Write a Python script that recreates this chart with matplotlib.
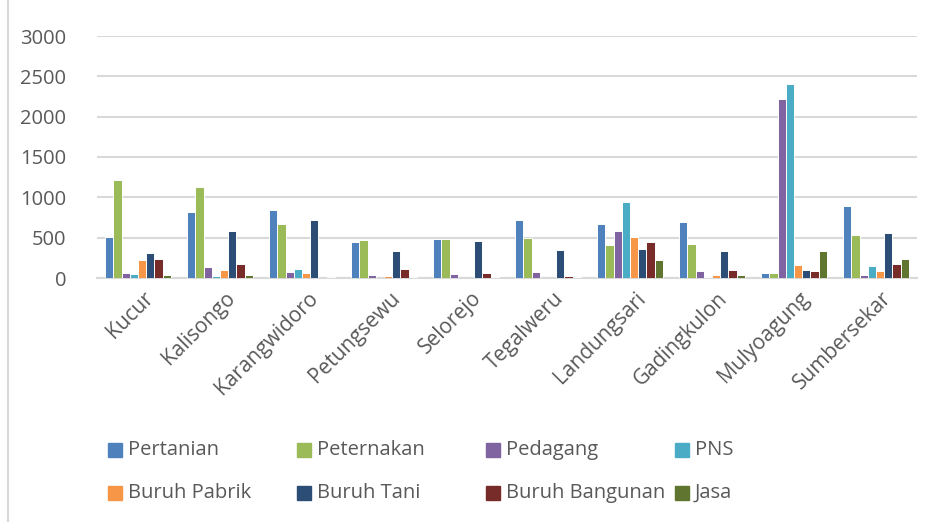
import numpy as np
import matplotlib
matplotlib.use("Agg")
import matplotlib.pyplot as plt
import matplotlib.transforms as mtransforms
from matplotlib.lines import Line2D
from matplotlib.patches import Rectangle

plt.rcParams['font.family'] = ['Open Sans', 'DejaVu Sans']

desa = ["Kucur", "Kalisongo", "Karangwidoro", "Petungsewu", "Selorejo",
        "Tegalweru", "Landungsari", "Gadingkulon", "Mulyoagung", "Sumbersekar"]

pertanian      = [512, 813, 842, 450, 478, 719, 664, 698, 57, 892]
peternakan     = [1218, 1128, 673, 470, 478, 496, 404, 416, 66, 533]
pedagang       = [57, 136, 78, 37, 50, 70, 582, 82, 2218, 33]
pns            = [45, 25, 111, 0, 0, 0, 942, 16, 2411, 152]
buruh_pabrik   = [227, 103, 62, 25, 0, 0, 512, 41, 157, 82]
buruh_tani     = [310, 582, 722, 334, 462, 342, 363, 338, 103, 557]
buruh_bangunan = [235, 169, 0, 111, 57, 29, 446, 103, 82, 173]
jasa           = [41, 41, 15, 16, 16, 16, 223, 41, 338, 239]

series = [
    ("Pertanian", pertanian, "#4F81BD"),
    ("Peternakan", peternakan, "#9BBB59"),
    ("Pedagang", pedagang, "#8064A2"),
    ("PNS", pns, "#4BACC6"),
    ("Buruh Pabrik", buruh_pabrik, "#F79646"),
    ("Buruh Tani", buruh_tani, "#2C4D75"),
    ("Buruh Bangunan", buruh_bangunan, "#772C2A"),
    ("Jasa", jasa, "#5F7530"),
]

W, H = 933, 522
fig = plt.figure(figsize=(W / 100, H / 100), dpi=100)
ax = fig.add_axes([97 / W, 1 - 278 / H, 820 / W, 242 / H])

x = np.arange(len(desa))
w = 0.1
for i, (name, vals, col) in enumerate(series):
    ax.bar(x + (i - 3.5) * w, vals, width=w, color=col, edgecolor="white",
           linewidth=0.7, label=name, zorder=3)

ax.set_xlim(-0.5, len(desa) - 0.5)
ax.set_ylim(0, 3000)
ax.set_yticks(range(0, 3001, 500))
ax.yaxis.grid(True, color="#D9D9D9", linewidth=1.5, zorder=0)
for s in ["top", "right", "left"]:
    ax.spines[s].set_visible(False)
ax.spines["bottom"].set_color("#D9D9D9")
ax.spines["bottom"].set_linewidth(1.5)
ax.tick_params(axis="y", length=0, pad=22, labelsize=14.5, labelcolor="#595959")
ax.tick_params(axis="x", length=0, pad=7)
ax.set_xticks(x)
ax.set_xticklabels(desa, rotation=45, ha="right", rotation_mode="anchor",
                   fontsize=15, color="#595959")
shift = mtransforms.ScaledTranslation(5 / 100, 0, fig.dpi_scale_trans)
for lab in ax.get_xticklabels():
    lab.set_transform(lab.get_transform() + shift)

# legend, 2 rows x 4 columns, filled row by row
for i, (name, vals, col) in enumerate(series):
    r, c = divmod(i, 4)
    px = 108 + 189 * c
    py = 450 + 43 * r
    fig.add_artist(Rectangle((px / W, 1 - (py + 7) / H), 14 / W, 14 / H,
                             transform=fig.transFigure, color=col))
    fig.text((px + 20) / W, 1 - py / H, name, ha="left", va="center",
             fontsize=14.5, color="#595959")

# light frame line on the left
fig.add_artist(Line2D([8 / W, 8 / W], [0, 1], color="#D9D9D9", linewidth=1.5))

fig.savefig("out.png", dpi=100)
